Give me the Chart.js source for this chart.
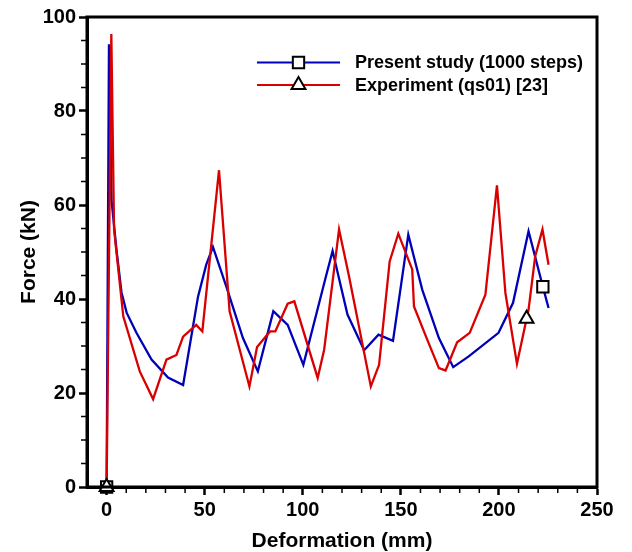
<!DOCTYPE html>
<html>
<head>
<meta charset="utf-8">
<script src="https://cdn.jsdelivr.net/npm/chart.js@4.4.0/dist/chart.umd.min.js"></script>
<style>
  html, body { margin: 0; padding: 0; background: #fff; }
  #wrap { width: 632px; height: 552px; }
</style>
</head>
<body>
<div id="wrap"><canvas id="forceChart" width="632" height="552"></canvas></div>
<script>
// Present study (1000 steps)
const presentX = [0, 1.2, 2.5, 5.1, 7.6, 10.2, 15.2, 22.9, 31.3, 39.0, 46.6, 50.8, 54.2, 61.0, 69.5, 77.1, 85.0, 92.3, 100.3, 111.8, 115.2, 122.8, 131.3, 138.6, 146.0, 153.8, 160.9, 169.4, 176.7, 184.6, 199.8, 207.2, 215.1, 222.4, 225.3];
const presentY = [0, 94.2, 61.0, 50.2, 41.4, 37.1, 32.8, 27.1, 23.3, 21.7, 40.5, 47.3, 51.1, 42.7, 31.7, 24.6, 37.4, 34.5, 26.0, 44.8, 50.2, 36.7, 29.1, 32.4, 31.1, 53.7, 42.0, 31.7, 25.5, 27.8, 32.8, 39.2, 54.4, 42.6, 38.1];

// Experiment (qs01) [23]
const expX = [0, 2.4, 3.8, 8.5, 16.9, 23.7, 30.5, 35.6, 39.0, 45.7, 48.8, 57.3, 62.7, 72.8, 76.7, 83.3, 86.0, 92.3, 95.7, 107.6, 110.9, 118.5, 123.6, 134.7, 138.9, 144.3, 148.7, 155.8, 156.7, 163.5, 169.4, 172.8, 178.7, 185.1, 193.1, 199.0, 203.3, 209.2, 214.1, 215.1, 218.5, 222.2, 225.3];
const expY = [0, 96.4, 54.8, 36.3, 24.6, 18.7, 27.1, 28.1, 32.0, 34.5, 33.1, 67.4, 37.4, 21.4, 29.8, 33.1, 33.1, 39.0, 39.5, 23.2, 29.2, 54.8, 44.8, 21.4, 26.0, 48.0, 53.9, 46.3, 38.4, 31.3, 25.3, 24.8, 30.8, 32.8, 40.9, 64.2, 41.3, 26.2, 35.8, 37.7, 49.1, 54.8, 47.3];

// x positions that carry a symbol
const presentMarkX = [0, 222.4];
const expMarkX = [0, 214.1];

const xTicks = [0, 50, 100, 150, 200, 250];
const yTicks = [0, 20, 40, 60, 80, 100];
const xMinorStep = 10;
const yMinorStep = 5;

const blue = '#0000b8';
const red = '#d80000';
const fontFam = "'Liberation Sans', Arial, sans-serif";

Chart.defaults.font.family = fontFam;
Chart.defaults.font.weight = 'bold';
Chart.defaults.color = '#000';

function toPts(xs, ys) {
  return xs.map((x, i) => ({ x: x, y: ys[i] }));
}

// top/right frame and minor ticks
const framePlugin = {
  id: 'frame',
  afterDraw(chart) {
    const ctx = chart.ctx;
    const a = chart.chartArea;
    const xs = chart.scales.x, ys = chart.scales.y;
    ctx.save();
    ctx.strokeStyle = '#000';
    ctx.lineWidth = 1.5;
    ctx.beginPath();
    for (let v = 0; v <= xs.max; v += xMinorStep) {
      if (xTicks.includes(v)) continue;
      const px = xs.getPixelForValue(v);
      ctx.moveTo(px, a.bottom);
      ctx.lineTo(px, a.bottom + 6);
    }
    for (let v = 0; v <= ys.max; v += yMinorStep) {
      if (yTicks.includes(v)) continue;
      const py = ys.getPixelForValue(v);
      ctx.moveTo(a.left, py);
      ctx.lineTo(a.left - 6, py);
    }
    ctx.stroke();
    ctx.lineWidth = 3;
    ctx.strokeRect(a.left, a.top, a.right - a.left, a.bottom - a.top);
    ctx.restore();
  }
};

function drawSymbol(ctx, style, x, y) {
  Chart.helpers.drawPoint(ctx, { pointStyle: style, radius: 8, rotation: 0, borderWidth: 2 }, x, y);
}

// legend with line + symbol, drawn inside the plot
const legendPlugin = {
  id: 'lineLegend',
  afterDraw(chart) {
    const ctx = chart.ctx;
    const a = chart.chartArea;
    const items = [
      { text: 'Present study (1000 steps)', color: blue, style: 'rect' },
      { text: 'Experiment (qs01) [23]', color: red, style: 'triangle' }
    ];
    const x0 = a.left + 170, x1 = a.left + 253;
    ctx.save();
    ctx.font = 'bold 18px ' + fontFam;
    ctx.textBaseline = 'middle';
    items.forEach((it, i) => {
      const y = a.top + 45.5 + i * 22.5;
      ctx.strokeStyle = it.color;
      ctx.lineWidth = 2;
      ctx.beginPath();
      ctx.moveTo(x0, y);
      ctx.lineTo(x1, y);
      ctx.stroke();
      ctx.strokeStyle = '#000';
      ctx.fillStyle = '#fff';
      drawSymbol(ctx, it.style, (x0 + x1) / 2, y);
      ctx.fillStyle = '#000';
      ctx.fillText(it.text, x1 + 15, y + 1);
    });
    ctx.restore();
  }
};

new Chart(document.getElementById('forceChart'), {
  type: 'line',
  data: {
    datasets: [
      {
        label: 'Experiment (qs01) [23]',
        data: toPts(expX, expY),
        borderColor: red,
        borderWidth: 2.3,
        tension: 0,
        pointStyle: 'triangle',
        pointRadius: c => expMarkX.includes(expX[c.dataIndex]) ? 8 : 0,
        pointBorderColor: '#000',
        pointBackgroundColor: '#fff',
        pointBorderWidth: 2,
        clip: false,
        order: 0
      },
      {
        label: 'Present study (1000 steps)',
        data: toPts(presentX, presentY),
        borderColor: blue,
        borderWidth: 2.3,
        tension: 0,
        pointStyle: 'rect',
        pointRadius: c => presentMarkX.includes(presentX[c.dataIndex]) ? 8 : 0,
        pointBorderColor: '#000',
        pointBackgroundColor: '#fff',
        pointBorderWidth: 2,
        clip: false,
        order: 1
      }
    ]
  },
  options: {
    responsive: false,
    animation: false,
    layout: { padding: { left: 10, right: 35, top: 17, bottom: 0 } },
    plugins: {
      legend: { display: false },
      tooltip: { enabled: false }
    },
    scales: {
      x: {
        type: 'linear',
        min: -10,
        max: 250,
        afterBuildTicks: s => { s.ticks = xTicks.map(v => ({ value: v })); },
        afterFit: s => { s.height = 65; },
        ticks: { font: { size: 20, weight: 'bold' }, color: '#000', padding: 3, maxRotation: 0, autoSkip: false },
        grid: { drawOnChartArea: false, tickLength: 8, tickWidth: 2.5, tickColor: '#000' },
        border: { color: '#000', width: 3 },
        title: { display: true, text: 'Deformation (mm)', font: { size: 21, weight: 'bold', lineHeight: 1 }, color: '#000', padding: { top: 4, bottom: 0 } }
      },
      y: {
        min: 0,
        max: 100,
        afterBuildTicks: s => { s.ticks = yTicks.map(v => ({ value: v })); },
        afterFit: s => { s.width = 77; },
        ticks: { font: { size: 20, weight: 'bold' }, color: '#000', padding: 3 },
        grid: { drawOnChartArea: false, tickLength: 8, tickWidth: 2.5, tickColor: '#000' },
        border: { color: '#000', width: 3 },
        title: { display: true, text: 'Force (kN)', font: { size: 21, weight: 'bold', lineHeight: 1 }, color: '#000', padding: { top: 8.5, bottom: 0 } }
      }
    }
  },
  plugins: [framePlugin, legendPlugin]
});
</script>
</body>
</html>
